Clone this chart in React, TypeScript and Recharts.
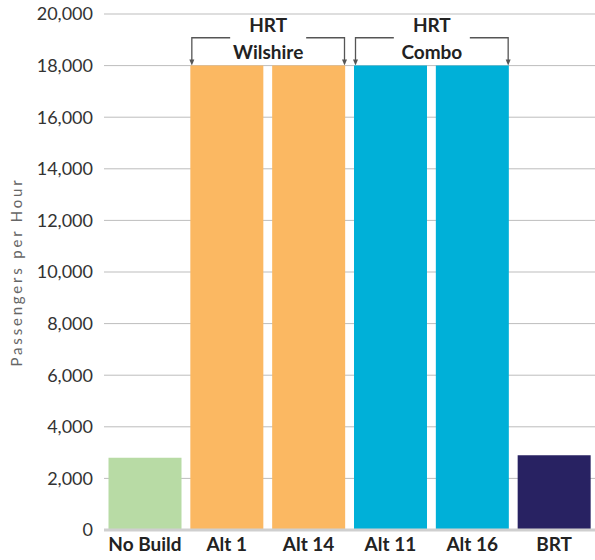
import { Bar, BarChart, CartesianGrid, Cell, Label, ReferenceArea, XAxis, YAxis } from 'recharts';

const categories = ['No Build', 'Alt 1', 'Alt 14', 'Alt 11', 'Alt 16', 'BRT'];
const passengers = [2800, 18000, 18000, 18000, 18000, 2900];
const barColors = ['#b8dba5', '#fbb862', '#fbb862', '#00b0d8', '#00b0d8', '#282262'];
const yTicks = [0, 2000, 4000, 6000, 8000, 10000, 12000, 14000, 16000, 18000, 20000];

// bracket groups over the HRT alternatives
const groups = [
  { from: 'Alt 1', to: 'Alt 14', top: 'HRT', name: 'Wilshire' },
  { from: 'Alt 11', to: 'Alt 16', top: 'HRT', name: 'Combo' },
];
const bracketLow = 18000;
const bracketHigh = 19080;

const data = categories.map((c, i) => ({ name: c, value: passengers[i] }));

const TEXT = '#222';
const GRID = '#bdbdbd';

function Bracket(props: any, top: string, name: string) {
  const { x, y, width, height } = props;
  const l = x + 6;
  const r = x + width - 5;
  const mid = (l + r) / 2;
  const gap = 38;
  const bottom = y + height;
  const stroke = '#555';
  return (
    <g>
      <path d={`M${l},${bottom - 5} L${l},${y} L${mid - gap},${y}`} fill="none" stroke={stroke} strokeWidth={1.3} />
      <path d={`M${r},${bottom - 5} L${r},${y} L${mid + gap},${y}`} fill="none" stroke={stroke} strokeWidth={1.3} />
      <path d={`M${l - 2.5},${bottom - 6} L${l + 2.5},${bottom - 6} L${l},${bottom} Z`} fill={stroke} />
      <path d={`M${r - 2.5},${bottom - 6} L${r + 2.5},${bottom - 6} L${r},${bottom} Z`} fill={stroke} />
      <text x={mid} y={y - 13} textAnchor="middle" dominantBaseline="central" fontFamily="Lato" fontWeight={700} fontSize={19} fill={TEXT}>
        {top}
      </text>
      <text x={mid} y={y + 14} textAnchor="middle" dominantBaseline="central" fontFamily="Lato" fontWeight={700} fontSize={19} fill={TEXT}>
        {name}
      </text>
    </g>
  );
}

export default function App() {
  return (
    <div style={{ position: 'absolute', left: 0, top: 0, background: 'white' }}>
      <BarChart
        width={595}
        height={560}
        data={data}
        margin={{ top: 14, right: 0, bottom: 0, left: 0 }}
        barCategoryGap="5.5%"
      >
        <CartesianGrid stroke={GRID} vertical={false} />
        <XAxis
          dataKey="name"
          height={30}
          axisLine={{ stroke: '#cfcfcf', strokeWidth: 3 }}
          tickLine={false}
          tickMargin={2}
          interval={0}
          tick={{ fontFamily: 'Lato', fontWeight: 700, fontSize: 19, fill: TEXT }}
        />
        <YAxis
          type="number"
          domain={[0, 20000]}
          ticks={yTicks}
          width={104}
          axisLine={false}
          tickLine={false}
          tickMargin={5}
          tickFormatter={(v) => v.toLocaleString('en-US')}
          tick={{ fontFamily: 'Lato', fontSize: 18, fill: '#333' }}
        >
          <Label
            value="Passengers per Hour"
            angle={-90}
            position="insideLeft"
            offset={17}
            style={{ fontFamily: 'Lato', fontWeight: 400, fontSize: 15, letterSpacing: 2.8, fill: '#666', textAnchor: 'middle' }}
          />
        </YAxis>
        <Bar dataKey="value" isAnimationActive={false}>
          {data.map((_, i) => (
            <Cell key={i} fill={barColors[i]} />
          ))}
        </Bar>
        {groups.map((g) => (
          <ReferenceArea
            key={g.name}
            x1={g.from}
            x2={g.to}
            y1={bracketLow}
            y2={bracketHigh}
            ifOverflow="visible"
            shape={(p: any) => Bracket(p, g.top, g.name)}
          />
        ))}
      </BarChart>
    </div>
  );
}
